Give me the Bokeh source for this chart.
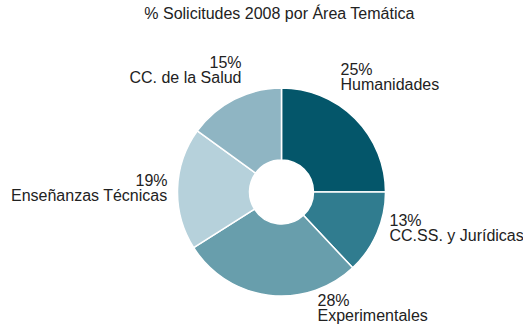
import math

from bokeh.core.properties import value
from bokeh.embed import file_html
from bokeh.models import ColumnDataSource, Range1d
from bokeh.plotting import figure
from bokeh.resources import INLINE

# Share of 2008 applications by subject area, in drawing order (clockwise from 12 o'clock)
areas = ["Humanidades", "CC.SS. y Jurídicas", "Experimentales",
         "Enseñanzas Técnicas", "CC. de la Salud"]
shares = [25, 13, 28, 19, 15]
colors = ["#04566a", "#307c8f", "#689eac", "#b6d1db", "#8fb5c3"]

TITLE = "% Solicitudes 2008 por Área Temática"

# Canvas is laid out in pixel-sized data units with the pie centre at (0, 0)
W, H = 523, 329
CX, CY = 281, 191.5
R_OUT, R_IN = 104, 32

total = float(sum(shares))
starts, ends = [], []
acc = 0.0
for s in shares:
    starts.append(math.pi / 2 - 2 * math.pi * acc / total)
    acc += s
    ends.append(math.pi / 2 - 2 * math.pi * acc / total)

src = ColumnDataSource(dict(area=areas, share=shares, color=colors,
                            start=starts, end=ends))

p = figure(width=W, height=H, output_backend="svg", toolbar_location=None,
           x_range=Range1d(-CX, W - CX), y_range=Range1d(-(H - CY), CY),
           min_border=0, outline_line_color=None)
p.axis.visible = False
p.grid.visible = False
p.background_fill_color = "white"
p.border_fill_color = "white"

p.annular_wedge(x=0, y=0, inner_radius=R_IN, outer_radius=R_OUT,
                start_angle="start", end_angle="end", direction="clock",
                fill_color="color", line_color="white", line_width=1.5,
                source=src)

# Label layout: inner edge x and vertical middle of each two-line label,
# measured from the pie centre, plus which side the text hangs from
label_anchor = [(59, 115), (108, -36), (36, -116), (-114, 4), (-40, 122)]
label_align = ["left", "left", "left", "right", "right"]
FONT = value("Liberation Sans")
INK = "#222222"
LINE = 15.5

for align in ("left", "right"):
    idx = [i for i in range(len(areas)) if label_align[i] == align]
    lab = ColumnDataSource(dict(
        x=[label_anchor[i][0] for i in idx],
        y1=[label_anchor[i][1] + LINE / 2 for i in idx],
        y2=[label_anchor[i][1] - LINE / 2 for i in idx],
        pct=[f"{shares[i]}%" for i in idx],
        name=[areas[i] for i in idx]))
    for ycol, tcol in (("y1", "pct"), ("y2", "name")):
        p.text(x="x", y=ycol, text=tcol, source=lab, text_align=align,
               text_baseline="alphabetic", text_font=FONT,
               text_font_size="16px", text_color=INK)

p.text(x=[-2], y=[CY - 13], text=[TITLE], text_align="center",
       text_baseline="alphabetic", text_font=FONT, text_font_size="16px",
       text_color=INK)

open("out.html", "w").write(file_html(p, INLINE))
